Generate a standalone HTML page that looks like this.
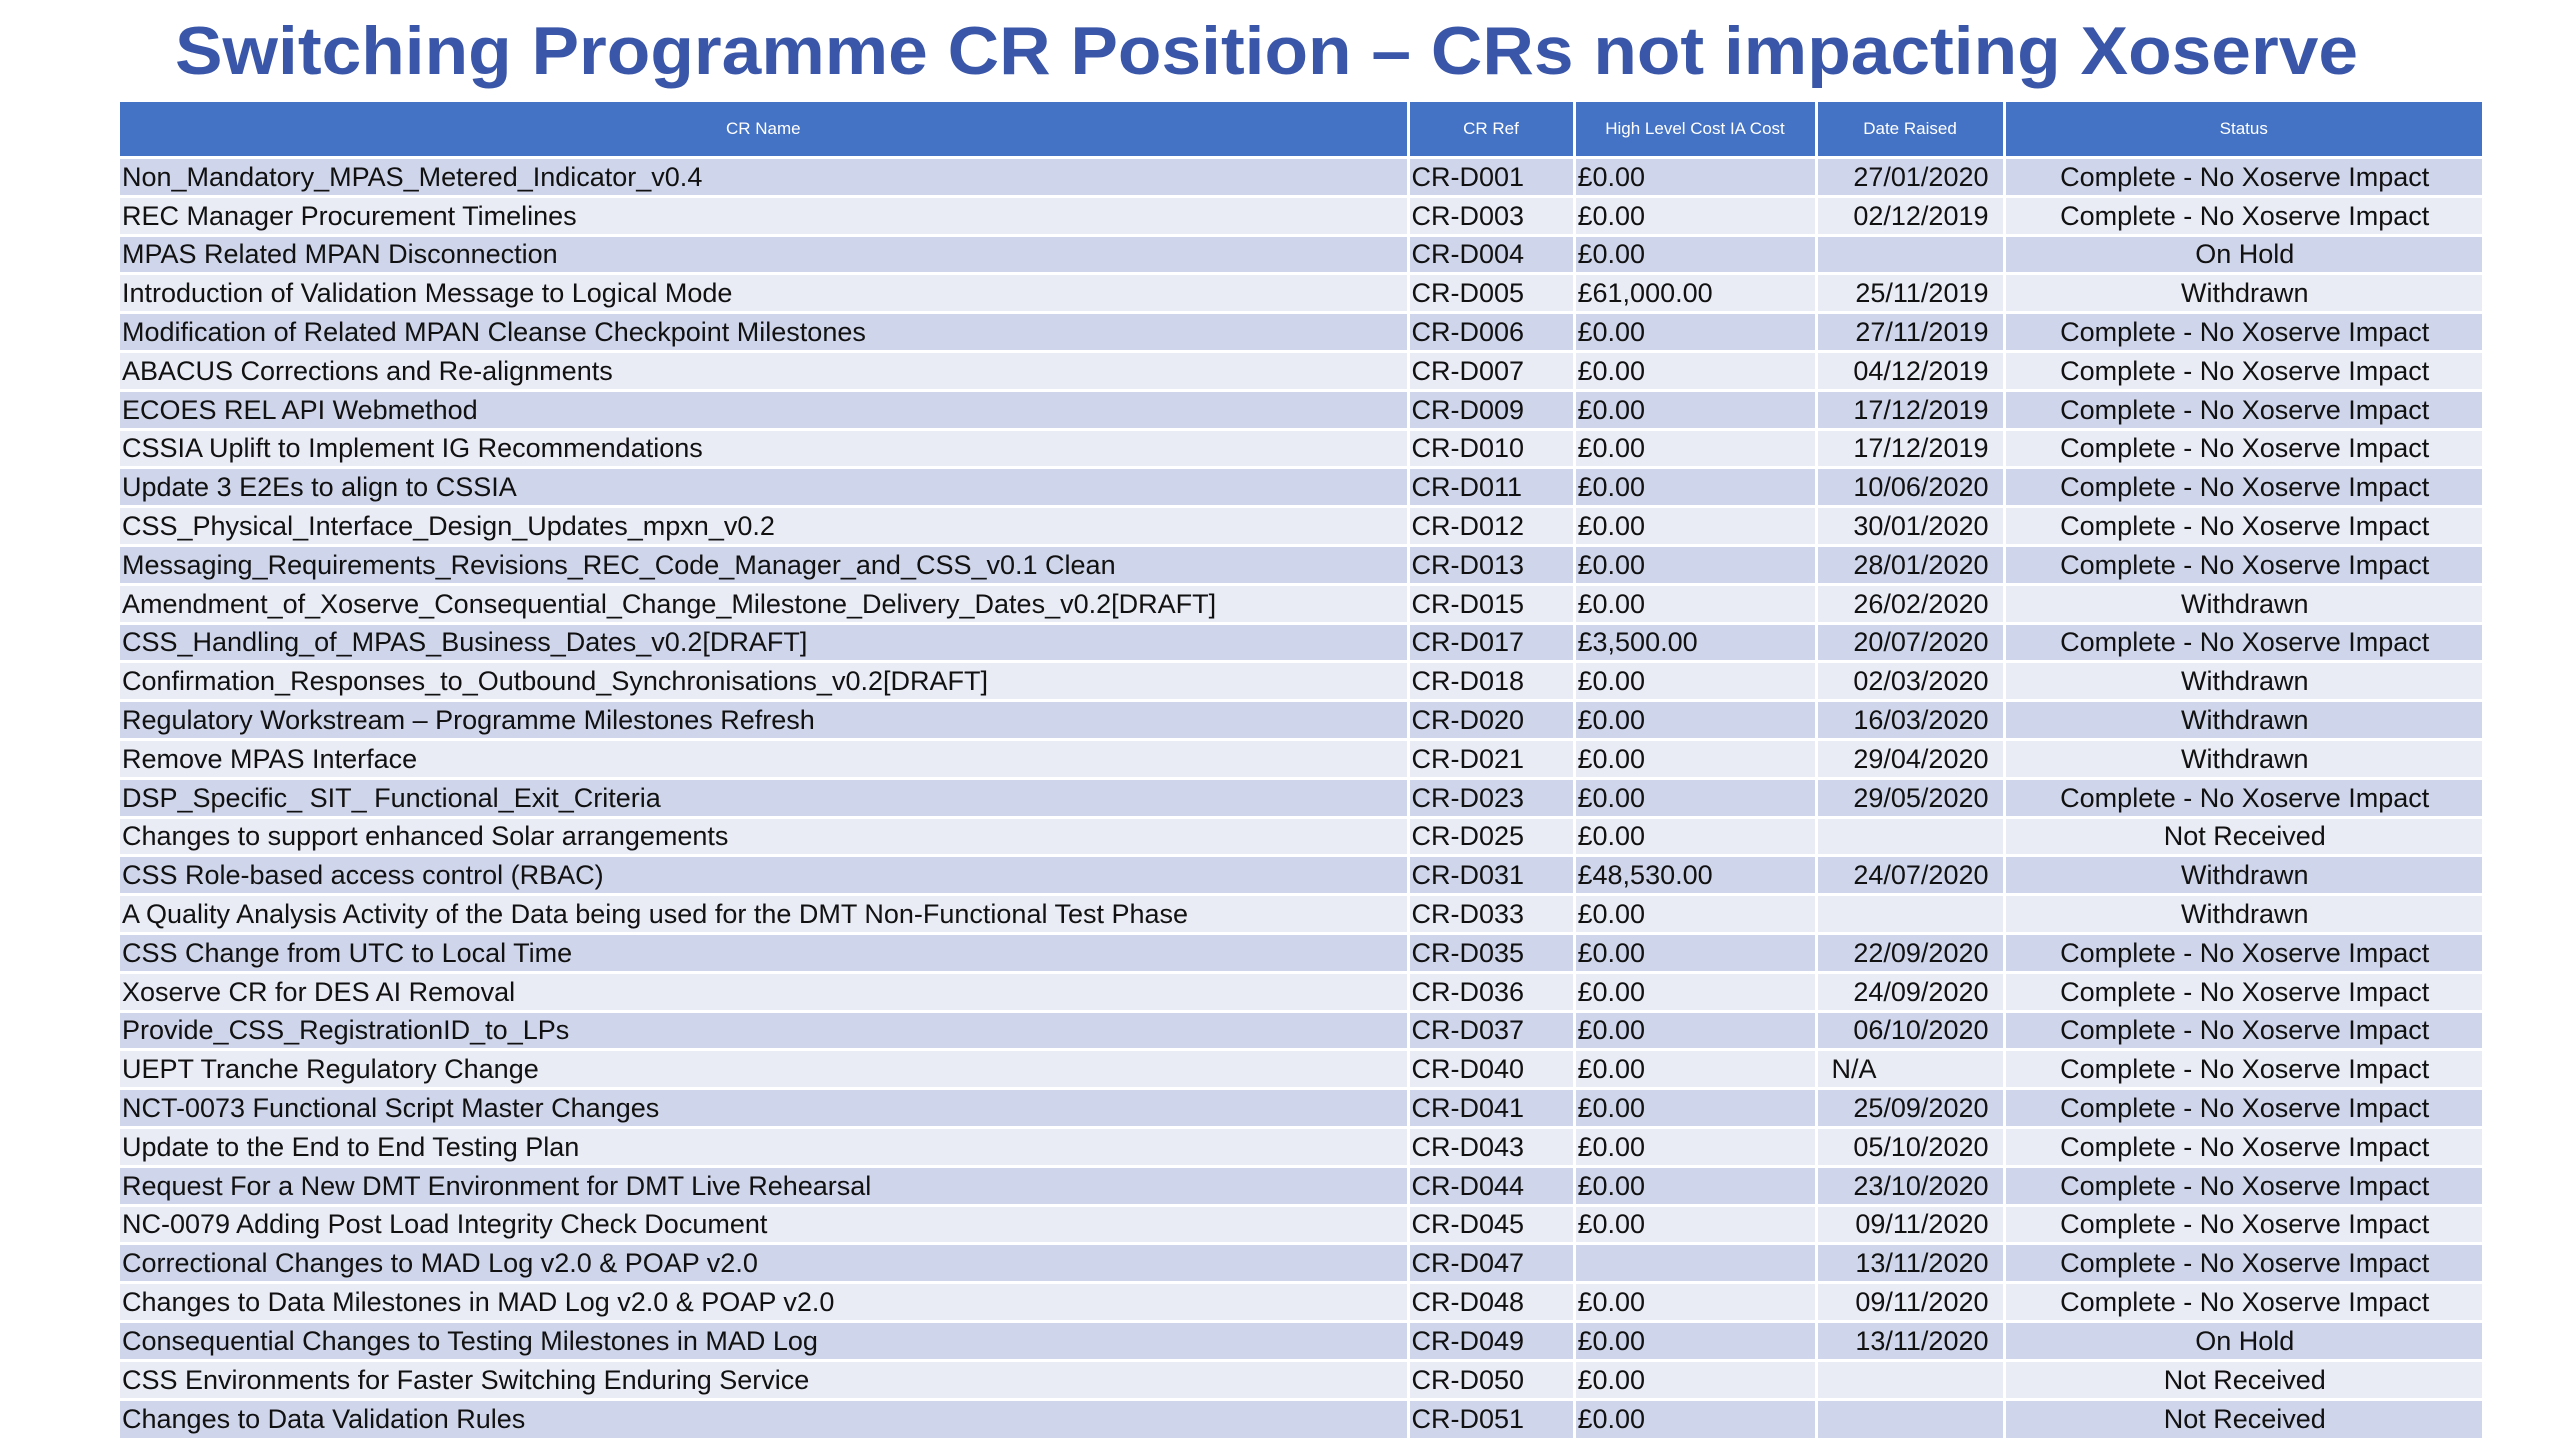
<!DOCTYPE html>
<html><head><meta charset="utf-8">
<style>
html,body{margin:0;padding:0;background:#fff;}
body{width:2560px;height:1440px;position:relative;overflow:hidden;font-family:"Liberation Sans",sans-serif;}
#title{position:absolute;left:0;top:0;}
table{position:absolute;left:120px;top:102px;border-collapse:collapse;table-layout:fixed;width:2362px;}
th{background:#4472c4;color:#fff;font-weight:normal;font-size:17px;height:54px;border-left:3px solid #fff;padding:0;text-align:center;}
th:first-child{border-left:none;}
td{font-size:27px;color:#111;height:38.8px;padding:0 0 0 2px;border-left:3px solid #fff;border-top:3px solid #fff;white-space:nowrap;overflow:hidden;box-sizing:border-box;line-height:30px;}
td:first-child{border-left:none;}
tr.odd td{background:#cfd5ea;}
tr.even td{background:#e9ebf5;}
td.date{text-align:right;padding-right:14px;}
td.status{text-align:center;}
</style></head><body>
<svg id="title" width="2560" height="100">
<text x="175" y="74" textLength="2183" lengthAdjust="spacingAndGlyphs" font-family="Liberation Sans, sans-serif" font-weight="bold" font-size="68" fill="#3a56a8">Switching Programme CR Position – CRs not impacting Xoserve</text>
</svg>
<table>
<colgroup><col style="width:1288px"><col style="width:166px"><col style="width:242px"><col style="width:188px"><col style="width:478px"></colgroup>
<thead><tr>
<th>CR Name</th>
<th>CR Ref</th>
<th>High Level Cost IA Cost</th>
<th>Date Raised</th>
<th>Status</th>
</tr></thead>
<tbody id="tb"></tbody>
</table>
<script>
const names=["Non_Mandatory_MPAS_Metered_Indicator_v0.4","REC Manager Procurement Timelines","MPAS Related MPAN Disconnection","Introduction of Validation Message to Logical Mode","Modification of Related MPAN Cleanse Checkpoint Milestones","ABACUS Corrections and Re-alignments","ECOES REL API Webmethod","CSSIA Uplift to Implement IG Recommendations","Update 3 E2Es to align to CSSIA","CSS_Physical_Interface_Design_Updates_mpxn_v0.2","Messaging_Requirements_Revisions_REC_Code_Manager_and_CSS_v0.1 Clean","Amendment_of_Xoserve_Consequential_Change_Milestone_Delivery_Dates_v0.2[DRAFT]","CSS_Handling_of_MPAS_Business_Dates_v0.2[DRAFT]","Confirmation_Responses_to_Outbound_Synchronisations_v0.2[DRAFT]","Regulatory Workstream – Programme Milestones Refresh","Remove MPAS Interface","DSP_Specific_ SIT_ Functional_Exit_Criteria","Changes to support enhanced Solar arrangements","CSS Role-based access control (RBAC)","A Quality Analysis Activity of the Data being used for the DMT Non-Functional Test Phase","CSS Change from UTC to Local Time","Xoserve CR for DES AI Removal","Provide_CSS_RegistrationID_to_LPs","UEPT Tranche Regulatory Change","NCT-0073 Functional Script Master Changes"," Update to the End to End Testing Plan","Request For a New DMT Environment for DMT Live Rehearsal","NC-0079 Adding Post Load Integrity Check Document","Correctional Changes to MAD Log v2.0 & POAP v2.0","Changes to Data Milestones in MAD Log v2.0 & POAP v2.0","Consequential Changes to Testing Milestones in MAD Log","CSS Environments for Faster Switching Enduring Service","Changes to Data Validation Rules"];
const refs=["D001","D003","D004","D005","D006","D007","D009","D010","D011","D012","D013","D015","D017","D018","D020","D021","D023","D025","D031","D033","D035","D036","D037","D040","D041","D043","D044","D045","D047","D048","D049","D050","D051"];
const costs=["£0.00","£0.00","£0.00","£61,000.00","£0.00","£0.00","£0.00","£0.00","£0.00","£0.00","£0.00","£0.00","£3,500.00","£0.00","£0.00","£0.00","£0.00","£0.00","£48,530.00","£0.00","£0.00","£0.00","£0.00","£0.00","£0.00","£0.00","£0.00","£0.00","","£0.00","£0.00","£0.00","£0.00"];
const dates=["27/01/2020","02/12/2019","","25/11/2019","27/11/2019","04/12/2019","17/12/2019","17/12/2019","10/06/2020","30/01/2020","28/01/2020","26/02/2020","20/07/2020","02/03/2020","16/03/2020","29/04/2020","29/05/2020","","24/07/2020","","22/09/2020","24/09/2020","06/10/2020","N/A","25/09/2020","05/10/2020","23/10/2020","09/11/2020","13/11/2020","09/11/2020","13/11/2020","",""];
const C="Complete - No Xoserve Impact";
const statuses=[C,C,"On Hold","Withdrawn",C,C,C,C,C,C,C,"Withdrawn",C,"Withdrawn","Withdrawn","Withdrawn",C,"Not Received","Withdrawn","Withdrawn",C,C,C,C,C,C,C,C,C,C,"On Hold","Not Received","Not Received"];
const tb=document.getElementById('tb');
names.forEach((n,i)=>{
  const tr=document.createElement('tr');
  tr.className=i%2===0?'odd':'even';
  
  
  const vals=[n,"CR-"+refs[i],costs[i],dates[i],statuses[i]];
  const cls=['name','ref','cost','date','status'];
  vals.forEach((v,j)=>{
    const td=document.createElement('td');
    td.className=cls[j];
    
    
    td.textContent=v;
    if(j===3&&v==="N/A"){td.style.textAlign='left';td.style.paddingLeft='14px';}
    tr.appendChild(td);
  });
  tb.appendChild(tr);
});
</script>
</body></html>
